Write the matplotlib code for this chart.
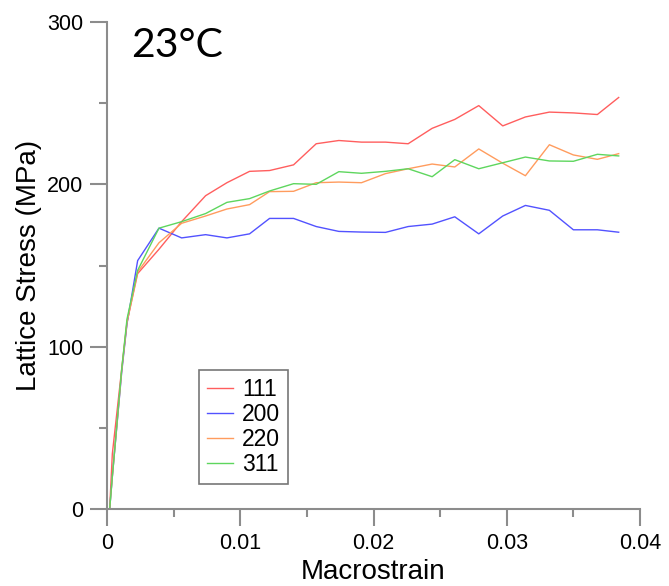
import matplotlib.pyplot as plt
from matplotlib.ticker import MultipleLocator

# macrostrain at each measurement step
strain = [0.0002, 0.0004, 0.0011, 0.0015, 0.0023, 0.0039, 0.0056, 0.0074,
          0.0090, 0.0107, 0.0122, 0.0140, 0.0157, 0.0174, 0.0191, 0.0209,
          0.0226, 0.0244, 0.0261, 0.0279, 0.0297, 0.0314, 0.0332, 0.0350,
          0.0368, 0.0384]

# lattice stress (MPa) per reflection
s111 = [0, 34, 86, 115, 145, 160, 177, 193, 201, 208, 208.5, 212, 225, 227,
        226, 226, 225, 234.5, 240, 248.5, 236, 241.5, 244.5, 244, 243, 253.5]
s200 = [0, 20, 84, 114, 153, 173, 167, 169, 167, 169.5, 179, 179, 174, 171,
        170.6, 170.4, 174, 175.5, 180, 169.5, 180.5, 187, 184, 172, 172, 170.5]
s220 = [0, 20, 85, 115, 146, 164, 176, 180.5, 184.8, 187.5, 195.5, 195.7, 201,
        201.4, 201, 206.6, 209.6, 212.5, 210.7, 221.8, 213, 205.3, 224.4, 218.1,
        215.4, 218.9]
s311 = [0, 20, 86, 117, 147, 173, 177, 182, 188.9, 191.2, 195.9, 200.4, 200,
        207.8, 206.8, 208, 209.6, 204.7, 215.2, 209.6, 213.3, 216.8, 214.4,
        214.2, 218.5, 217.5]

labels = ["111", "200", "220", "311"]
colors = ["#ff5e5e", "#5252ff", "#ff9c5e", "#5ed65e"]

plt.rcParams['font.family'] = ['Liberation Sans', 'DejaVu Sans']

fig = plt.figure(figsize=(6.69, 5.86), dpi=100)
ax = fig.add_axes([107 / 669, 1 - 509 / 586, 533 / 669, 487 / 586])

for ys, lab, c in zip([s111, s200, s220, s311], labels, colors):
    ax.plot(strain, ys, color=c, lw=1.0, label=lab)

ax.set_xlim(0, 0.04)
ax.set_ylim(0, 300)
ax.set_xticks([0, 0.01, 0.02, 0.03, 0.04])
ax.set_xticklabels(["0", "0.01", "0.02", "0.03", "0.04"])
ax.xaxis.set_minor_locator(MultipleLocator(0.005))
ax.yaxis.set_major_locator(MultipleLocator(100))
ax.yaxis.set_minor_locator(MultipleLocator(50))

for side in ["top", "right"]:
    ax.spines[side].set_visible(False)
for side in ["left", "bottom"]:
    ax.spines[side].set_color("#8c8c8c")
    ax.spines[side].set_linewidth(1.5)

ax.tick_params(which="major", direction="out", length=12, width=1.5,
               color="#8c8c8c", labelsize=15.5, pad=5)
ax.tick_params(which="minor", direction="out", length=6, width=1.5,
               color="#8c8c8c")

ax.set_xlabel("Macrostrain", fontsize=20, labelpad=4)
ax.set_ylabel("Lattice Stress (MPa)", fontsize=20, labelpad=4)

ax.text(0.045, 0.928, "23°C", transform=ax.transAxes, fontsize=29.5,
        family=["Lato", "DejaVu Sans"], va="baseline", ha="left")

leg = ax.legend(loc="lower left", bbox_to_anchor=(0.1726, 0.0513),
                fontsize=16.5, fancybox=False, frameon=True,
                handlelength=1.15, handletextpad=0.4, labelspacing=0.1,
                borderpad=0.33, borderaxespad=0)
leg.get_frame().set_edgecolor("#555555")
leg.get_frame().set_linewidth(1.2)

fig.savefig("out.png", dpi=100)
